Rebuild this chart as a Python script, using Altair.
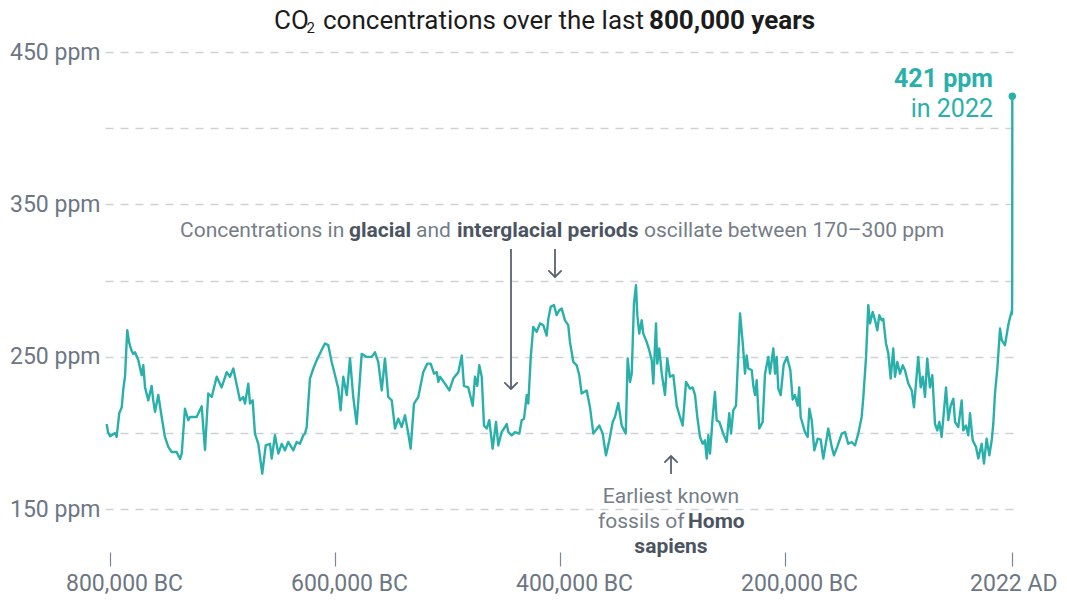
import altair as alt
import pandas as pd

# ---------------- data ----------------
age_kyr_bp = [805.0, 803.8, 802.0, 797.6, 796.1, 793.8, 791.6, 790.2, 788.7, 786.7, 784.9, 782.8, 781.3, 779.8,
              776.9, 773.9, 772.4, 770.9, 768.0, 765.0, 763.6, 762.0, 759.1, 756.1, 753.2, 750.2, 747.2, 742.8,
              739.8, 738.3, 735.4, 732.4, 730.9, 725.0, 720.5, 717.6, 714.7, 711.6, 707.2, 702.8, 698.3, 695.4,
              692.4, 690.9, 686.5, 683.6, 682.0, 679.1, 677.6, 675.2, 673.2, 670.2, 666.7, 663.6, 659.8, 658.3,
              655.4, 652.4, 649.4, 646.5, 643.6, 639.1, 636.1, 633.2, 630.2, 628.7, 627.2, 624.3, 621.3, 618.3,
              615.4, 611.0, 608.0, 605.0, 602.0, 599.1, 597.0, 594.7, 591.6, 588.7, 585.8, 582.8, 578.3, 573.9,
              569.4, 566.5, 563.6, 560.5, 557.6, 554.7, 551.6, 548.7, 545.8, 542.8, 539.8, 536.9, 534.8, 531.8,
              528.0, 523.6, 520.0, 517.0, 514.0, 511.6, 510.2, 508.7, 504.3, 500.4, 496.9, 492.4, 489.4, 487.4,
              483.6, 479.6, 477.6, 475.6, 473.8, 471.6, 469.6, 467.2, 464.9, 461.9, 458.9, 456.9, 453.9, 450.9,
              449.4, 448.0, 445.0, 442.0, 438.2, 436.1, 434.0, 431.6, 430.2, 428.1, 425.8, 422.8, 419.8, 416.9,
              413.9, 412.4, 410.3, 407.4, 405.0, 402.7, 400.5, 397.6, 394.7, 393.2, 390.2, 387.2, 384.9, 382.8,
              378.3, 375.4, 372.4, 367.1, 364.1, 361.2, 358.2, 355.2, 353.2, 350.2, 347.2, 343.6, 341.9, 339.8,
              338.3, 336.3, 334.5, 333.3, 331.6, 329.4, 328.0, 325.0, 322.7, 320.5, 319.1, 316.7, 315.6, 313.8,
              311.6, 308.7, 306.7, 304.3, 301.3, 298.3, 295.4, 293.0, 290.0, 286.5, 284.1, 282.0, 280.0, 277.6,
              275.2, 273.2, 271.6, 270.2, 268.7, 266.3, 264.3, 262.8, 260.4, 256.9, 253.9, 251.6, 250.0, 248.0,
              245.6, 242.0, 239.6, 237.6, 236.1, 234.7, 231.6, 230.2, 228.7, 227.2, 224.9, 221.9, 219.8, 216.9,
              215.4, 212.4, 210.9, 209.4, 208.0, 205.9, 203.2, 200.3, 197.3, 195.2, 193.2, 190.8, 189.4, 188.1,
              184.3, 181.9, 180.4, 178.3, 176.0, 173.0, 170.3, 168.0, 165.0, 163.6, 160.5, 158.5, 155.6, 151.6,
              148.7, 145.8, 142.8, 139.8, 136.9, 133.9, 132.4, 130.0, 128.0, 126.5, 124.1, 122.0, 120.0, 118.2,
              116.1, 114.7, 112.3, 110.2, 108.1, 105.8, 104.3, 102.2, 99.8, 97.4, 95.4, 92.4, 89.4, 87.4,
              83.6, 81.4, 79.6, 77.6, 75.6, 73.2, 71.1, 68.7, 66.7, 64.9, 62.8, 60.7, 58.9, 56.9,
              54.8, 52.4, 50.9, 48.0, 45.0, 43.6, 41.2, 39.1, 37.6, 35.2, 32.3, 30.2, 27.2, 25.2,
              22.8, 20.4, 18.3, 16.9, 15.4, 13.3, 10.9, 9.4, 6.5, 3.6, 2.0, 0.5]

co2_ppm = [206, 200.7, 198, 200, 197.5, 213, 217, 229, 237, 267.5, 259, 254, 252, 253,
           248, 238, 244.5, 230, 221.5, 231, 221.5, 214, 225, 210.6, 197.5, 191, 187.6, 187.6,
           183, 186.5, 216, 208.5, 210.6, 210.6, 217.6, 189, 226, 223.7, 237, 230, 240, 237,
           242.4, 237, 221.5, 223.7, 219.4, 232.5, 219.4, 221.5, 199.7, 193, 173.4, 192, 193, 183.3,
           198.6, 186.6, 193, 188.7, 194.2, 188.7, 194.2, 193, 198.6, 199.7, 204, 235.8, 242.4, 247.8,
           252.2, 258.8, 257.7, 246.7, 238, 229.2, 215, 237, 225, 249, 223.7, 206, 252, 250,
           250, 253, 246.7, 228, 249, 223.7, 221.5, 203, 209.5, 204, 211.7, 199.7, 189.8, 219.4,
           223.7, 240, 245.6, 245.6, 239, 240, 233.6, 237, 232.5, 228, 235.8, 240, 251, 231,
           230, 218, 237, 231, 244.5, 237, 205, 203, 208.5, 189.8, 207.3, 192, 200.7, 204,
           206, 200.7, 198.6, 200.7, 199.7, 208.5, 209.5, 225, 219.4, 249, 269.7, 266.4, 272, 270.8,
           264, 275, 282.8, 284, 277.4, 280.6, 281.7, 274, 270.8, 259.8, 246.7, 244.5, 238, 226,
           228, 217, 199.7, 205, 199.7, 185.4, 195.3, 207.3, 210.6, 219.8, 205, 199.7, 249, 233.6,
           239, 285, 297, 277.4, 265.3, 274, 265.3, 259.8, 254.4, 247.8, 232.5, 272, 245.6, 255.5,
           239, 225, 249, 237, 238, 218, 210.6, 205, 233.6, 229.2, 230, 225, 210.6, 197.5,
           193, 195.3, 183.3, 198.6, 186.6, 210.6, 227, 208.5, 207.3, 199.7, 194.2, 213, 199.7, 215,
           218, 278.5, 259, 239, 251, 242.4, 241.3, 231, 225, 234.7, 203, 207.3, 239, 250,
           239, 255.5, 239, 250, 229.2, 225, 245, 250, 241.3, 222, 225, 218, 230, 210.6,
           200.7, 197.5, 216, 208.5, 188.7, 196.4, 195.8, 183.3, 196.4, 203, 191, 185.4, 191, 199.7,
           200.7, 193, 194.2, 192, 199.7, 210.6, 223.7, 250, 284, 272, 279.5, 274, 267.5, 277.4,
           274, 275, 259, 252.2, 235.8, 255.5, 237, 246.7, 239, 244.5, 241.3, 232.5, 228, 217,
           250, 230, 237, 223.7, 249, 230, 238, 206, 201.8, 207.3, 197.5, 215, 230, 208.5,
           218, 222.6, 207.3, 204, 221.5, 201.8, 205, 198.6, 213, 195.3, 191, 183.3, 193, 180,
           196.4, 185.4, 195.3, 206, 226, 242.4, 268.6, 261, 257.7, 270.8, 276, 280]

modern_year = [1750, 1850, 1900, 1950, 1980, 2000, 2010, 2022]
modern_ppm = [278, 285, 296, 311, 339, 369, 389, 421]

x_tick_years = [-800000, -600000, -400000, -200000, 2022]
y_tick_ppm = [150, 200, 250, 300, 350, 400, 450]

# ---------------- styling ----------------
FONT = "Roboto"
TEAL = "#2ab0aa"
AXIS_GRAY = "#6d7684"
NOTE_GRAY = "#757d88"
NOTE_DARK = "#4c5462"
ARROW = "#5a6270"
GRID = "#cdd1d9"

OX, OY = 105, 52  # plot origin on the page (8px margin + padding)

years = [2022 - a * 1000 for a in age_kyr_bp] + modern_year
ppm = co2_ppm + modern_ppm
df = pd.DataFrame({"year": years, "ppm": ppm})
one = pd.DataFrame({"k": [0]})

x_scale = alt.Scale(domain=[-804450, 4420], nice=False, zero=False)
y_scale = alt.Scale(domain=[124, 450], nice=False, zero=False)

x_enc = alt.X(
    "year:Q", scale=x_scale,
    axis=alt.Axis(
        values=x_tick_years,
        labelExpr="datum.value > 0 ? '2022 AD' : format(-datum.value, ',') + ' BC'",
        grid=False, domain=False, tickSize=14, tickColor="#7d8694", tickWidth=1.2,
        offset=3, labelPadding=6,
        labelOffset={"condition": {"test": "datum.value > 0", "value": 1}, "value": 14},
        labelFlush=False, labelOverlap=False,
        labelFont=FONT, labelFontSize=23, labelColor=AXIS_GRAY, title=None,
    ),
)
y_enc = alt.Y(
    "ppm:Q", scale=y_scale,
    axis=alt.Axis(
        values=y_tick_ppm,
        labelExpr="datum.value % 100 == 50 ? datum.value + ' ppm' : ''",
        grid=True, gridDash=[8, 7], gridColor=GRID, gridWidth=1.4,
        domain=False, ticks=False, labelPadding=5, labelFlush=False, labelOverlap=False,
        labelFont=FONT, labelFontSize=23, labelColor=AXIS_GRAY, title=None,
    ),
)

line = alt.Chart(df).mark_line(color=TEAL, strokeWidth=2.4, strokeJoin="round").encode(x=x_enc, y=y_enc)

end_pt = alt.Chart(pd.DataFrame({"year": [2022], "ppm": [421]})).mark_circle(
    size=55, color=TEAL, opacity=1
).encode(x=alt.X("year:Q", scale=x_scale), y=alt.Y("ppm:Q", scale=y_scale))


def txt(s, px, py, size, color, weight="normal", align="left", baseline="alphabetic"):
    return alt.Chart(one).mark_text(
        text=s, align=align, baseline=baseline, font=FONT, fontSize=size,
        fontWeight=weight, color=color,
    ).encode(x=alt.value(px - OX), y=alt.value(py - OY))


def rule(px, py1, py2):
    return alt.Chart(one).mark_rule(color=ARROW, strokeWidth=1.8).encode(
        x=alt.value(px - OX), y=alt.value(py1 - OY), y2=alt.value(py2 - OY)
    )


def head(px, py, down=True):
    shape = "M-1,-1L0,0L1,-1" if down else "M-1,1L0,0L1,1"
    return alt.Chart(one).mark_point(
        shape=shape, filled=False, stroke=ARROW, strokeWidth=1.8, size=150, opacity=1,
        strokeCap="round", strokeJoin="round",
    ).encode(x=alt.value(px - OX), y=alt.value(py - OY))


layers = [
    line,
    end_pt,
    # title
    txt("CO", 274, 28.5, 26, "#1c1c1c"),
    txt("2", 306.5, 33, 15, "#1c1c1c"),
    txt("concentrations over the last", 323, 28.5, 26, "#1c1c1c"),
    txt("800,000 years", 649, 28.5, 26, "#1c1c1c", weight="bold"),
    # glacial annotation
    txt("Concentrations in", 180, 237, 21, NOTE_GRAY),
    txt("glacial", 349, 237, 21, NOTE_DARK, weight="bold"),
    txt("and", 416, 237, 21, NOTE_GRAY),
    txt("interglacial periods", 457, 237, 21, NOTE_DARK, weight="bold"),
    txt("oscillate between 170\u2013300 ppm", 644, 237, 21, NOTE_GRAY),
    rule(511, 249, 389), head(511, 389),
    rule(555, 249, 277), head(555, 277),
    # Homo sapiens annotation
    rule(671, 456, 474), head(671, 456, down=False),
    txt("Earliest known", 671, 503, 21, NOTE_GRAY, align="center"),
    txt("fossils of", 598, 528, 21, NOTE_GRAY),
    txt("Homo", 688, 528, 21, NOTE_DARK, weight="bold"),
    txt("sapiens", 671, 553, 21, NOTE_DARK, weight="bold", align="center"),
    # latest value
    txt("421 ppm", 993, 87, 25, TEAL, weight="bold", align="right"),
    txt("in 2022", 993, 117, 25, TEAL, align="right"),
]

chart = alt.layer(*layers).properties(
    width=910, height=497,
    autosize=alt.AutoSizeParams(type="none"),
    padding={"left": 97, "top": 44, "right": 44, "bottom": 51},
    background="white",
).configure_view(stroke=None)

chart.save("out.html", embed_options={"renderer": "svg", "actions": False})
